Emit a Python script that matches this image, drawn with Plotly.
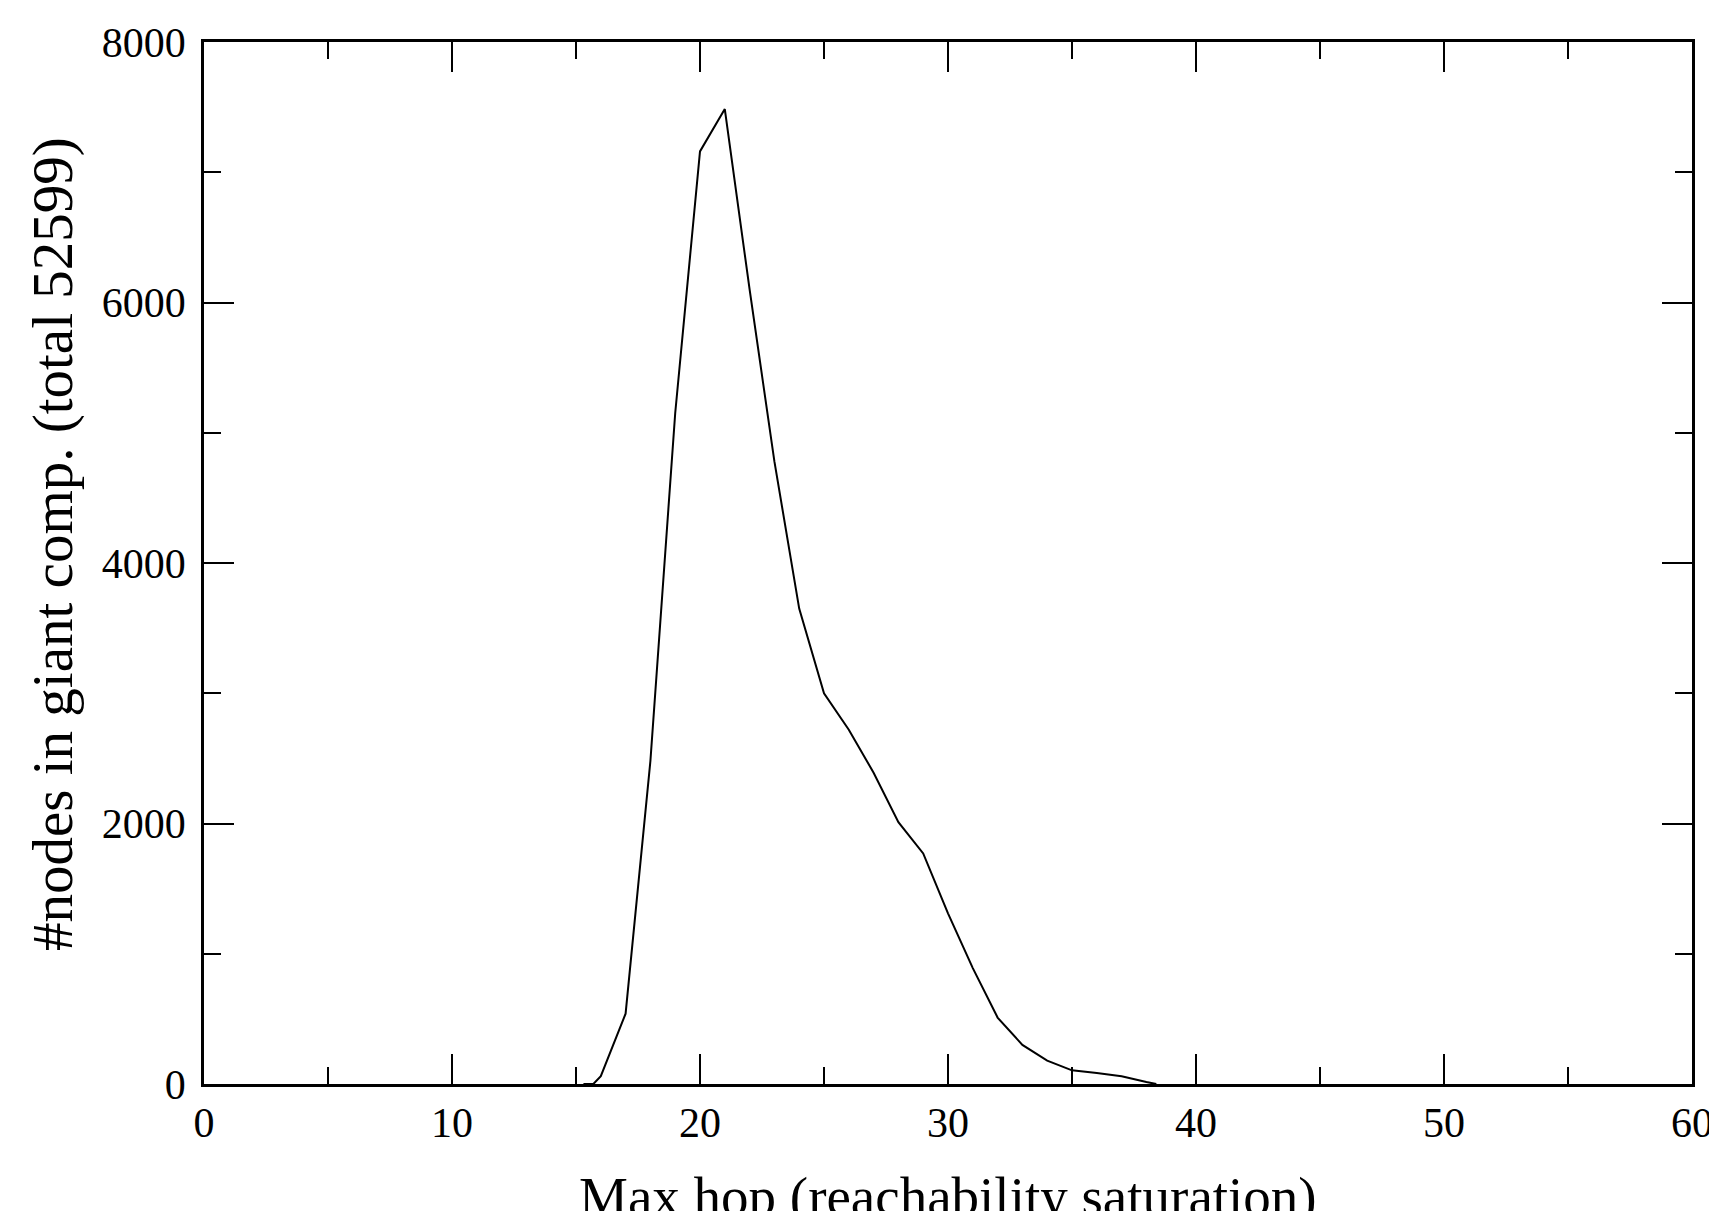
import plotly.graph_objects as go

max_hop = [15.3, 15.7, 16, 17, 18, 19, 20, 21, 22, 23, 24, 25, 26, 27, 28, 29,
           30, 31, 32, 33, 34, 35, 36, 37, 38, 38.4]
nodes = [0, 0, 60, 540, 2480, 5150, 7160, 7485, 6100, 4780, 3650, 3000, 2720,
         2390, 2010, 1770, 1310, 890, 510, 300, 180, 105, 84, 60, 15, 0]

x_title = "Max hop (reachability saturation)"
y_title = "#nodes in giant comp. (total 52599)"

FONT = "Liberation Serif"

fig = go.Figure()
fig.add_trace(go.Scatter(x=max_hop, y=nodes, mode="lines",
                         line=dict(color="black", width=2), showlegend=False))

axis_common = dict(
    showgrid=False, zeroline=False, showline=True, linecolor="black",
    linewidth=2.5, mirror="allticks", ticks="inside", tickcolor="black",
    tickwidth=2, ticklen=30,
    tickfont=dict(family=FONT, size=42, color="black"),
)

fig.update_xaxes(range=[0, 60], tick0=0, dtick=10,
                 minor=dict(ticks="inside", dtick=5, ticklen=17, tickwidth=2,
                            tickcolor="black", showgrid=False),
                 ticklabelstandoff=0, **axis_common)
fig.update_yaxes(range=[0, 8000], tick0=0, dtick=2000,
                 minor=dict(ticks="inside", dtick=1000, ticklen=17, tickwidth=2,
                            tickcolor="black", showgrid=False),
                 ticklabelstandoff=7, **axis_common)

fig.add_annotation(text=x_title, xref="paper", yref="paper", x=0.5, y=-0.108,
                   xanchor="center", yanchor="middle", showarrow=False,
                   font=dict(family=FONT, size=55, color="black"))
fig.add_annotation(text=y_title, xref="paper", yref="paper", x=-0.101, y=0.518,
                   xanchor="center", yanchor="middle", showarrow=False,
                   textangle=-90,
                   font=dict(family=FONT, size=57, color="black"))

fig.update_layout(
    width=1717, height=1211,
    margin=dict(l=196, r=27, t=31, b=135),
    paper_bgcolor="white", plot_bgcolor="white",
)

fig.write_html("out.html")
